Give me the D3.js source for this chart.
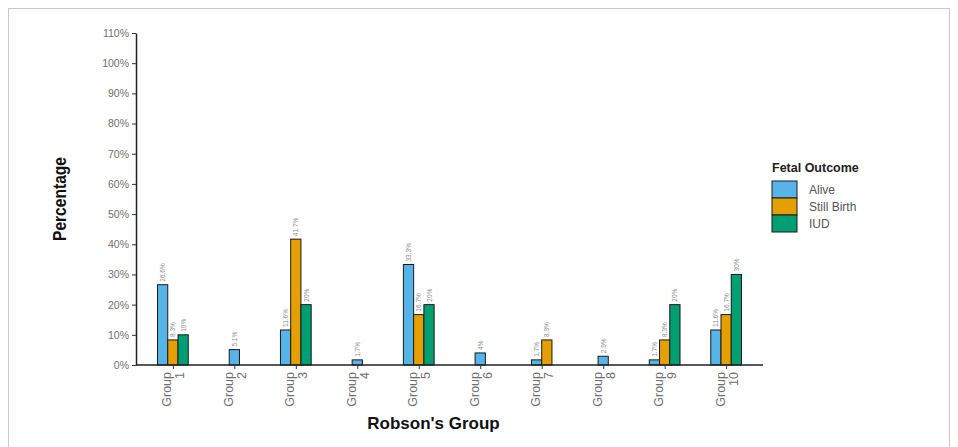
<!DOCTYPE html>
<html>
<head>
<meta charset="utf-8">
<script src="https://cdn.jsdelivr.net/npm/d3@7"></script>
<style>
  body { margin: 0; background: #fff; }
  svg { display: block; font-family: "Liberation Sans", Arial, sans-serif; }
</style>
</head>
<body>
<svg id="chart" width="958" height="447"></svg>
<script>
// data (percent within each outcome)
const groups = ["1", "2", "3", "4", "5", "6", "7", "8", "9", "10"];
const outcomes = ["Alive", "Still Birth", "IUD"];
const alive = [26.6, 5.1, 11.6, 1.7, 33.3, 4, 1.7, 2.9, 1.7, 11.6];
const stillBirth = [8.3, 0, 41.7, 0, 16.7, 0, 8.3, 0, 8.3, 16.7];
const iud = [10, 0, 20, 0, 20, 0, 0, 0, 20, 30];
const yTicks = [0, 10, 20, 30, 40, 50, 60, 70, 80, 90, 100, 110];

const colors = {"Alive": "#56B4E9", "Still Birth": "#E69F00", "IUD": "#009E73"};
const series = [alive, stillBirth, iud];

const svg = d3.select("#chart");

// outer frame of the screenshot
svg.append("rect")
  .attr("x", 8.5).attr("y", 8.5)
  .attr("width", 941).attr("height", 445)
  .attr("fill", "none").attr("stroke", "#c8c8c8");

const plotLeft = 136, plotRight = 763, plotTop = 33, plotBottom = 365;

const xScale = d3.scalePoint()
  .domain(groups)
  .range([plotLeft, plotRight])
  .padding(0.6);
const step = xScale.step();
const barW = step * 0.5 / 3;

const yScale = d3.scaleLinear()
  .domain([0, 110])
  .range([plotBottom, plotTop]);

// bars, dodged and centred on the groups that have values
let bars = [];
groups.forEach((g, i) => {
  let present = [];
  outcomes.forEach((o, j) => {
    if (series[j][i] > 0) present.push({group: g, outcome: o, value: series[j][i]});
  });
  present.forEach((d, k) => {
    d.x = xScale(g) - present.length * barW / 2 + k * barW;
    bars.push(d);
  });
});

svg.append("g").selectAll("rect")
  .data(bars)
  .enter().append("rect")
  .attr("x", d => d.x)
  .attr("y", d => yScale(d.value))
  .attr("width", barW)
  .attr("height", d => yScale(0) - yScale(d.value))
  .attr("fill", d => colors[d.outcome])
  .attr("stroke", "#1a1a1a")
  .attr("stroke-width", 1);

// value labels above bars
svg.append("g").selectAll("text")
  .data(bars)
  .enter().append("text")
  .attr("transform", d => "translate(" + (d.x + barW / 2 + 2.5) + "," + (yScale(d.value) - 3) + ") rotate(-90)")
  .attr("font-size", 6.5)
  .attr("fill", "#8a8a8a")
  .text(d => (+d.value.toFixed(1)) + "%");

// y axis
const yAxis = d3.axisLeft(yScale)
  .tickValues(yTicks)
  .tickFormat(d => d + "%")
  .tickSize(4)
  .tickSizeOuter(0);
const yG = svg.append("g")
  .attr("transform", "translate(" + plotLeft + ",0)")
  .call(yAxis);
yG.select(".domain").attr("stroke", "#222").attr("stroke-width", 1.5);
yG.selectAll(".tick line").attr("stroke", "#333");
yG.selectAll(".tick text")
  .attr("font-size", 10.5)
  .attr("fill", "#707070")
  .attr("x", -7);

// x axis
const xAxis = d3.axisBottom(xScale)
  .tickSize(4)
  .tickSizeOuter(0);
const xG = svg.append("g")
  .attr("transform", "translate(0," + plotBottom + ")")
  .call(xAxis);
xG.select(".domain")
  .attr("d", "M" + plotLeft + ",0H" + plotRight)
  .attr("stroke", "#222").attr("stroke-width", 1.5);
xG.selectAll(".tick line").attr("stroke", "#333");
xG.selectAll(".tick text").each(function(d) {
  const t = d3.select(this);
  t.text(null)
    .attr("transform", "rotate(-90)")
    .attr("text-anchor", "end")
    .attr("font-size", 12.5)
    .attr("fill", "#707070")
    .attr("dy", null)
    .attr("y", null);
  t.append("tspan").attr("x", -7).attr("y", -2).text("Group");
  t.append("tspan").attr("x", -7).attr("y", 11).text(d);
});

// axis titles (condensed look as in the source)
svg.append("text")
  .attr("transform", "translate(66,199) rotate(-90)")
  .attr("text-anchor", "middle")
  .attr("font-weight", "bold")
  .attr("font-size", 18)
  .attr("textLength", 84)
  .attr("lengthAdjust", "spacingAndGlyphs")
  .attr("fill", "#111")
  .text("Percentage");

svg.append("text")
  .attr("x", (plotLeft + plotRight) / 2 - 16)
  .attr("y", 429)
  .attr("text-anchor", "middle")
  .attr("font-weight", "bold")
  .attr("font-size", 17)
  .attr("fill", "#111")
  .text("Robson's Group");

// legend
const legend = svg.append("g").attr("transform", "translate(772,172)");
legend.append("text")
  .attr("x", 0).attr("y", 0)
  .attr("font-weight", "bold")
  .attr("font-size", 12.5)
  .attr("fill", "#222")
  .text("Fetal Outcome");
outcomes.forEach((o, i) => {
  legend.append("rect")
    .attr("x", 0).attr("y", 9 + i * 17)
    .attr("width", 25).attr("height", 17)
    .attr("fill", colors[o])
    .attr("stroke", "#1a1a1a")
    .attr("stroke-width", 1);
  legend.append("text")
    .attr("x", 37).attr("y", 22 + i * 17)
    .attr("font-size", 12)
    .attr("fill", "#555")
    .text(o);
});
</script>
</body>
</html>
